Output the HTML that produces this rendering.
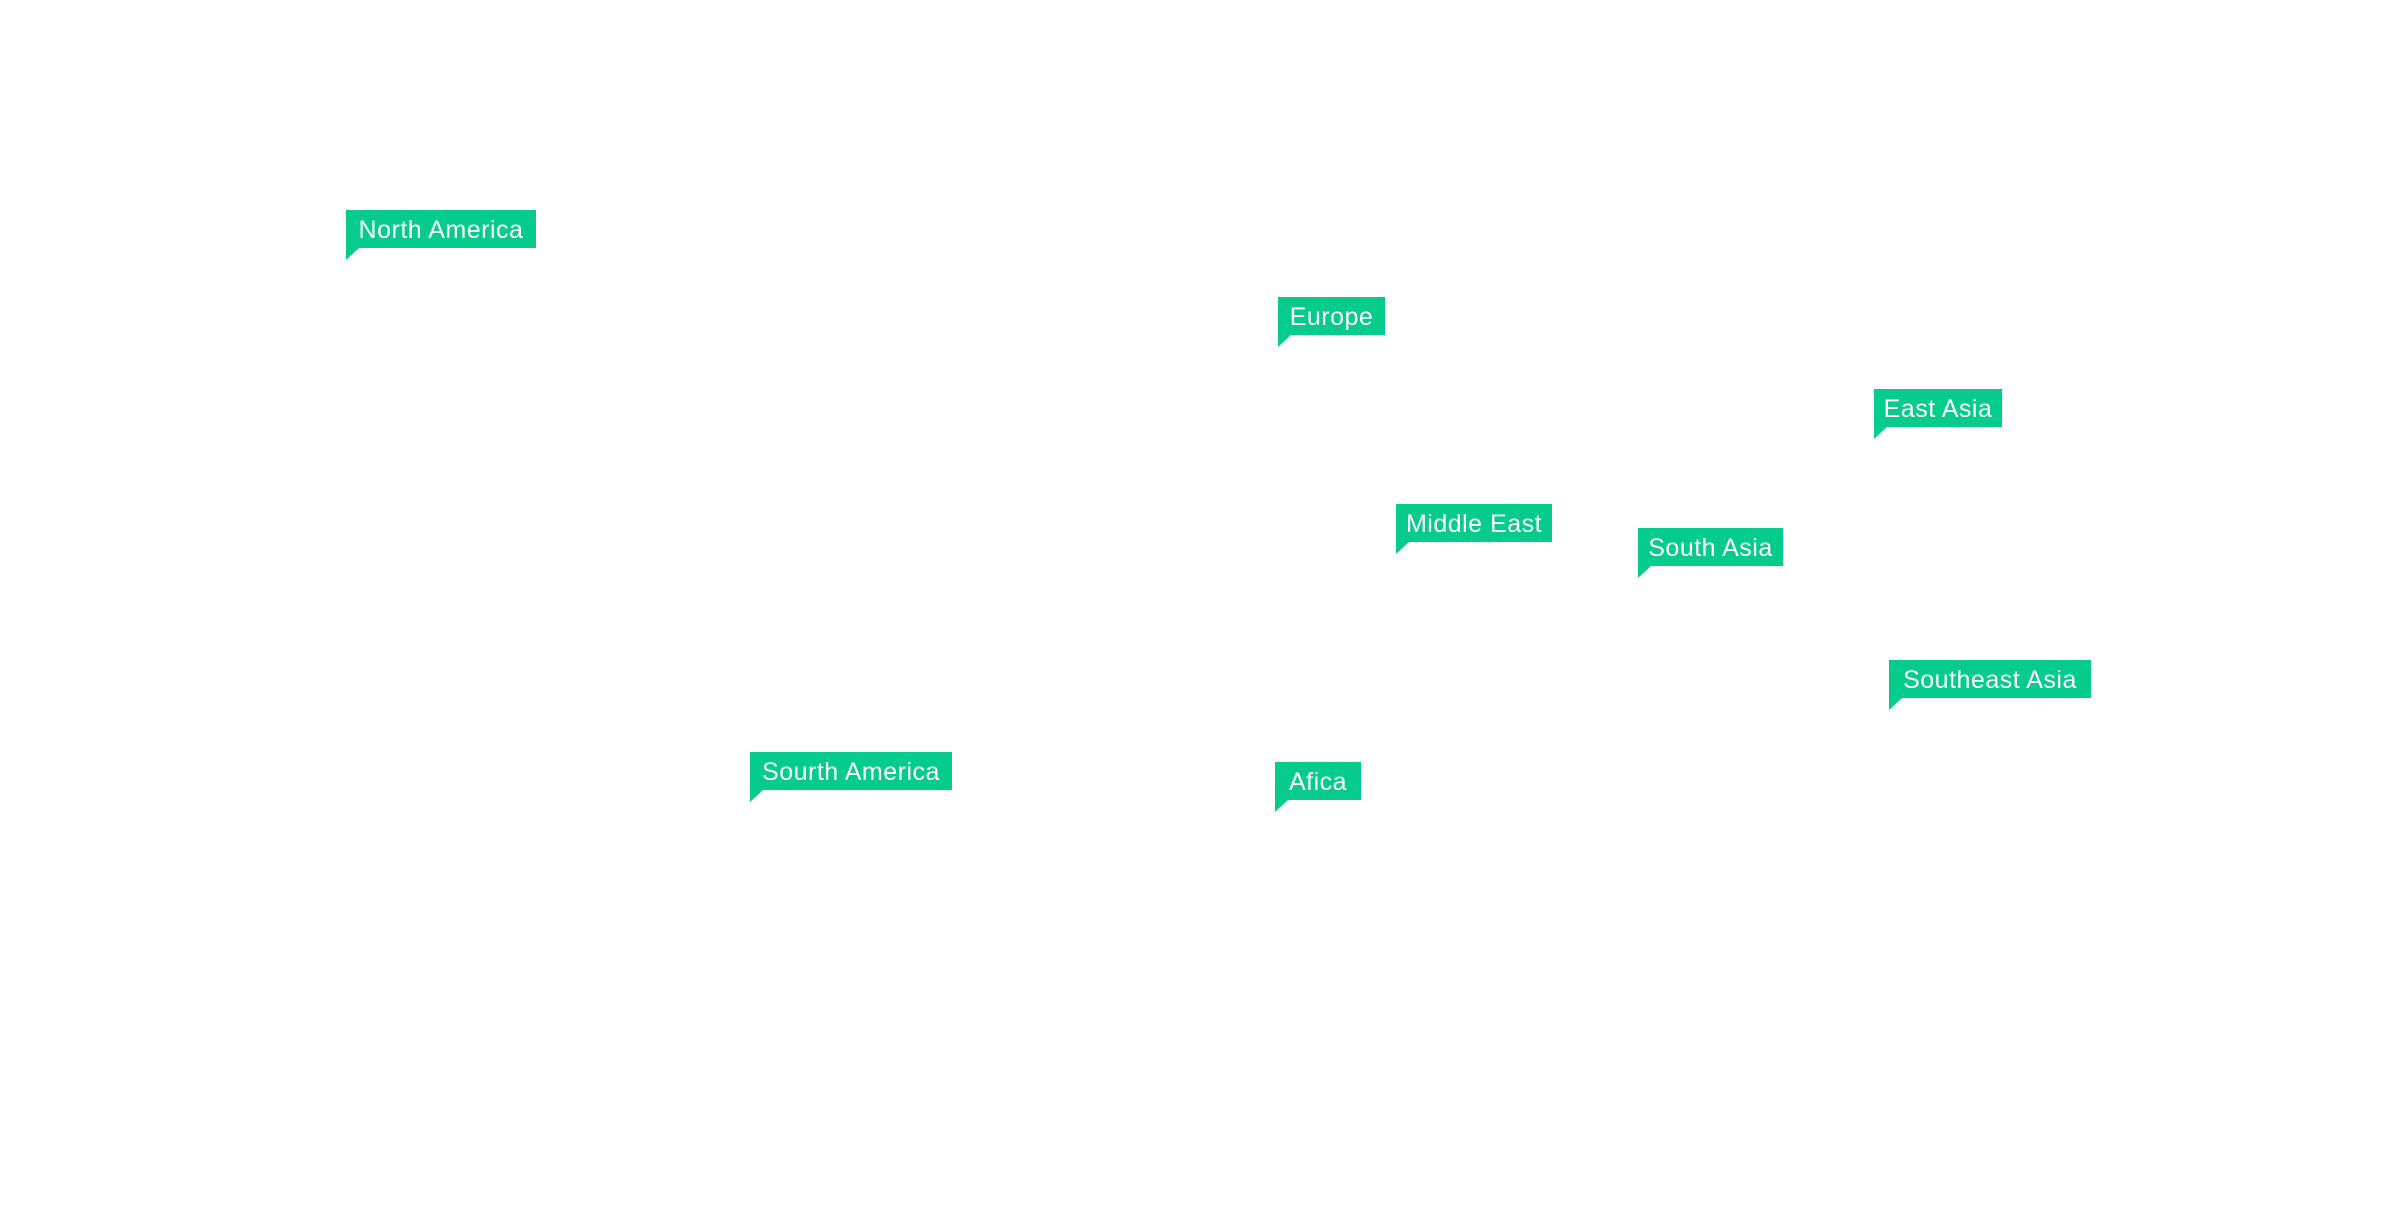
<!DOCTYPE html>
<html><head><meta charset="utf-8"><style>
html,body{margin:0;padding:0;background:#fff;width:2400px;height:1212px;overflow:hidden;position:relative}
.l{position:absolute;height:38px;background:#05cc8a;color:#fff;font-family:"Liberation Sans",sans-serif;font-size:25px;letter-spacing:0.5px;line-height:40px;text-align:center;white-space:nowrap}
.l:after{content:"";position:absolute;left:0;top:38px;width:0;height:0;border-top:12px solid #05cc8a;border-right:13px solid transparent}
</style></head><body>
<div class="l" style="left:346px;top:210px;width:190px">North America</div>
<div class="l" style="left:1278px;top:297px;width:107px">Europe</div>
<div class="l" style="left:1874px;top:389px;width:128px">East Asia</div>
<div class="l" style="left:1396px;top:504px;width:156px">Middle East</div>
<div class="l" style="left:1638px;top:528px;width:145px">South Asia</div>
<div class="l" style="left:1889px;top:660px;width:202px">Southeast Asia</div>
<div class="l" style="left:750px;top:752px;width:202px">Sourth America</div>
<div class="l" style="left:1275px;top:762px;width:86px">Afica</div>
</body></html>
